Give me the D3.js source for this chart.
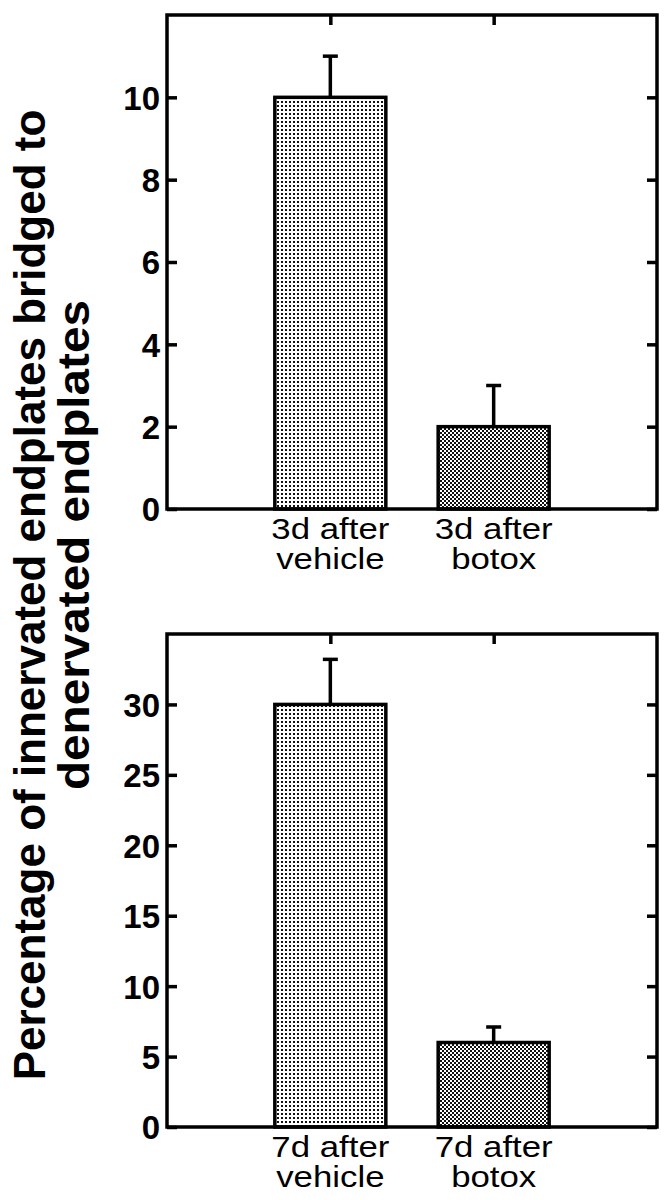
<!DOCTYPE html>
<html>
<head>
<meta charset="utf-8"/>
<script src="https://cdnjs.cloudflare.com/ajax/libs/d3/7.8.5/d3.min.js"></script>
<style>
  body { margin: 0; background: #fff; }
  text { font-family: "Liberation Sans", Arial, Helvetica, sans-serif; }
</style>
</head>
<body>
<script>
// data
const topCats = ['3d after vehicle', '3d after botox'];
const topLabels = [['3d after', 'vehicle'], ['3d after', 'botox']];
const topMeans = [10, 2];
const topErrs = [1, 1];
const topTicks = [0, 2, 4, 6, 8, 10];
const topMax = 12;

const botCats = ['7d after vehicle', '7d after botox'];
const botLabels = [['7d after', 'vehicle'], ['7d after', 'botox']];
const botMeans = [30, 6];
const botErrs = [3.2, 1.1];
const botTicks = [0, 5, 10, 15, 20, 25, 30];
const botMax = 35;

const yTitle = ['Percentage of innervated endplates bridged to', 'denervated endplates'];

const W = 666, H = 1200;
const left = 167, right = 657;
const svg = d3.select('body').append('svg')
  .attr('width', W)
  .attr('height', H);

// fill patterns: light dots for vehicle, dark checker for botox
const defs = svg.append('defs');
const p1 = defs.append('pattern').attr('id', 'dots')
  .attr('width', 4).attr('height', 4).attr('patternUnits', 'userSpaceOnUse');
p1.append('rect').attr('width', 4).attr('height', 4).attr('fill', '#fff');
p1.append('rect').attr('x', 1).attr('y', 1).attr('width', 2).attr('height', 2).attr('fill', '#111');
const p2 = defs.append('pattern').attr('id', 'checker')
  .attr('width', 4).attr('height', 4).attr('patternUnits', 'userSpaceOnUse');
p2.append('rect').attr('width', 4).attr('height', 4).attr('fill', '#fff');
p2.append('rect').attr('x', 0).attr('y', 0).attr('width', 2).attr('height', 2).attr('fill', '#111');
p2.append('rect').attr('x', 2).attr('y', 2).attr('width', 2).attr('height', 2).attr('fill', '#111');
const fills = ['url(#dots)', 'url(#checker)'];

function panel(cats, labels, means, errs, ticks, ymax, top, bottom) {
  const g = svg.append('g');
  const x = d3.scalePoint().domain(cats).range([left, right]).padding(1);
  const y = d3.scaleLinear().domain([0, ymax]).range([bottom, top]);
  const bw = 111;

  // bars
  g.selectAll('rect.bar').data(cats).enter().append('rect')
    .attr('class', 'bar')
    .attr('x', d => x(d) - bw / 2)
    .attr('width', bw)
    .attr('y', (d, i) => y(means[i]))
    .attr('height', (d, i) => y(0) - y(means[i]))
    .attr('fill', (d, i) => fills[i])
    .attr('stroke', '#000')
    .attr('stroke-width', 3.5);

  // upper error bars
  g.selectAll('line.err').data(cats).enter().append('line')
    .attr('class', 'err')
    .attr('x1', d => x(d)).attr('x2', d => x(d))
    .attr('y1', (d, i) => y(means[i]))
    .attr('y2', (d, i) => y(means[i] + errs[i]))
    .attr('stroke', '#000').attr('stroke-width', 3.5);
  g.selectAll('line.cap').data(cats).enter().append('line')
    .attr('class', 'cap')
    .attr('x1', d => x(d) - 7.5).attr('x2', d => x(d) + 7.5)
    .attr('y1', (d, i) => y(means[i] + errs[i]))
    .attr('y2', (d, i) => y(means[i] + errs[i]))
    .attr('stroke', '#000').attr('stroke-width', 3.5);

  // axes, ticks pointing inwards
  const yl = g.append('g').attr('transform', `translate(${left},0)`)
    .call(d3.axisLeft(y).tickValues(ticks).tickSize(-10).tickPadding(7));
  const yr = g.append('g').attr('transform', `translate(${right},0)`)
    .call(d3.axisRight(y).tickValues(ticks).tickSize(-10).tickFormat(''));
  const xt = g.append('g').attr('transform', `translate(0,${top})`)
    .call(d3.axisTop(x).tickSize(-10).tickFormat(''));
  [yl, yr, xt].forEach(a => {
    a.select('.domain').remove();
    a.selectAll('.tick line').attr('stroke', '#000').attr('stroke-width', 3.5);
  });
  yl.attr('font-family', null).attr('font-size', null);
  yl.selectAll('.tick text')
    .attr('fill', '#000')
    .attr('dy', '0.36em')
    .style('font-size', '33px')
    .style('font-weight', 'bold');

  // frame
  g.append('rect')
    .attr('x', left).attr('y', top)
    .attr('width', right - left).attr('height', bottom - top)
    .attr('fill', 'none').attr('stroke', '#000').attr('stroke-width', 3.5);

  // category labels, two lines
  cats.forEach((c, i) => {
    const t = g.append('text')
      .attr('text-anchor', 'middle')
      .style('font-size', '29px')
      .attr('transform', `translate(${x(c)},${bottom}) scale(1.2,1)`);
    labels[i].forEach((s, j) => {
      t.append('tspan').attr('x', 0).attr('y', 30 + j * 30).text(s);
    });
  });
}

panel(topCats, topLabels, topMeans, topErrs, topTicks, topMax, 15, 509);
panel(botCats, botLabels, botMeans, botErrs, botTicks, botMax, 634, 1127);

// y title, rotated, two lines
svg.append('text')
  .attr('transform', 'translate(45,595) rotate(-90)')
  .attr('text-anchor', 'middle')
  .style('font-size', '44px').style('font-weight', 'bold')
  .text(yTitle[0]);
svg.append('text')
  .attr('transform', 'translate(89,545) rotate(-90)')
  .attr('text-anchor', 'middle')
  .style('font-size', '44px').style('font-weight', 'bold')
  .attr('textLength', 490).attr('lengthAdjust', 'spacingAndGlyphs')
  .text(yTitle[1]);
</script>
</body>
</html>
